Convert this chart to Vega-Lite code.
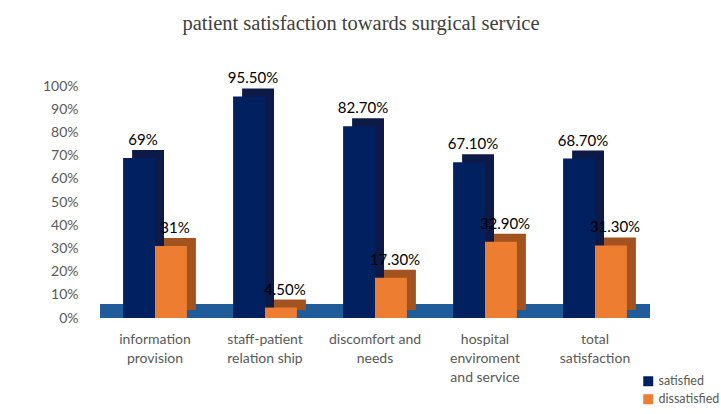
{
  "$schema": "https://vega.github.io/schema/vega-lite/v6.json",
  "description": "Patient satisfaction towards surgical service, satisfied vs dissatisfied by aspect.",
  "width": 550,
  "height": 232,
  "autosize": {"type": "none"},
  "padding": {"left": 100, "top": 86, "right": 71, "bottom": 96},
  "background": "white",
  "title": {
    "text": "patient satisfaction towards surgical service",
    "font": "Liberation Serif",
    "fontSize": 20.5,
    "fontWeight": "normal",
    "color": "#404040",
    "anchor": "middle",
    "dx": -14,
    "offset": 37
  },
  "config": {
    "view": {"stroke": null},
    "axis": {
      "title": null,
      "domain": false,
      "ticks": false,
      "labelFont": "Lato",
      "labelFontSize": 14,
      "labelColor": "#595959",
      "gridColor": "#d9d9d9",
      "gridWidth": 1.5
    }
  },
  "datasets": {
    "survey": [
      {"aspect": "information provision", "group": "satisfied", "value": 0.69, "label": "69%"},
      {"aspect": "information provision", "group": "dissatisfied", "value": 0.31, "label": "31%"},
      {"aspect": "staff-patient relation ship", "group": "satisfied", "value": 0.955, "label": "95.50%"},
      {"aspect": "staff-patient relation ship", "group": "dissatisfied", "value": 0.045, "label": "4.50%"},
      {"aspect": "discomfort and needs", "group": "satisfied", "value": 0.827, "label": "82.70%"},
      {"aspect": "discomfort and needs", "group": "dissatisfied", "value": 0.173, "label": "17.30%"},
      {"aspect": "hospital enviroment and service", "group": "satisfied", "value": 0.671, "label": "67.10%"},
      {"aspect": "hospital enviroment and service", "group": "dissatisfied", "value": 0.329, "label": "32.90%"},
      {"aspect": "total satisfaction", "group": "satisfied", "value": 0.687, "label": "68.70%"},
      {"aspect": "total satisfaction", "group": "dissatisfied", "value": 0.313, "label": "31.30%"}
    ]
  },
  "layer": [
    {
      "data": {"values": [{}]},
      "mark": {"type": "rect", "color": "#1f5c99"},
      "encoding": {
        "y": {
          "datum": 0,
          "type": "quantitative",
          "scale": {"domain": [0, 1]},
          "axis": {"values": [0, 0.1, 0.2, 0.3, 0.4, 0.5, 0.6, 0.7, 0.8, 0.9, 1], "format": ".0%", "labelOverlap": false, "labelPadding": 22}
        },
        "y2": {"datum": 0.06}
      }
    },
    {
      "data": {"name": "survey"},
      "mark": {"type": "bar", "yOffset": -8},
      "encoding": {
        "x": {
          "field": "aspect",
          "type": "nominal",
          "sort": null,
          "scale": {"paddingInner": 0.42, "paddingOuter": 0.21},
          "axis": {
            "labelAngle": 0,
            "labelPadding": 14,
            "labelLineHeight": 19,
            "labelBaseline": "top",
            "labelExpr": "{'information provision': ['information', 'provision'], 'staff-patient relation ship': ['staff-patient', 'relation ship'], 'discomfort and needs': ['discomfort and', 'needs'], 'hospital enviroment and service': ['hospital', 'enviroment', 'and service'], 'total satisfaction': ['total', 'satisfaction']}[datum.label]"
          }
        },
        "xOffset": {
          "field": "group",
          "type": "nominal",
          "sort": ["satisfied", "dissatisfied"],
          "scale": {"range": [9, 72.8], "paddingInner": 0}
        },
        "y": {
          "field": "value",
          "type": "quantitative",
          "axis": {"values": [0, 0.1, 0.2, 0.3, 0.4, 0.5, 0.6, 0.7, 0.8, 0.9, 1], "format": ".0%", "labelOverlap": false, "labelPadding": 22}
        },
        "color": {
          "field": "group",
          "type": "nominal",
          "scale": {"domain": ["satisfied", "dissatisfied"], "range": ["#0d1a47", "#a3531f"]},
          "legend": null
        }
      }
    },
    {
      "data": {"name": "survey"},
      "mark": {"type": "bar"},
      "encoding": {
        "x": {
          "field": "aspect",
          "type": "nominal",
          "sort": null,
          "axis": {
            "labelAngle": 0,
            "labelPadding": 14,
            "labelLineHeight": 19,
            "labelBaseline": "top",
            "labelExpr": "{'information provision': ['information', 'provision'], 'staff-patient relation ship': ['staff-patient', 'relation ship'], 'discomfort and needs': ['discomfort and', 'needs'], 'hospital enviroment and service': ['hospital', 'enviroment', 'and service'], 'total satisfaction': ['total', 'satisfaction']}[datum.label]"
          }
        },
        "xOffset": {
          "field": "group",
          "type": "nominal",
          "sort": ["satisfied", "dissatisfied"],
          "scale": {"paddingInner": 0}
        },
        "y": {
          "field": "value",
          "type": "quantitative",
          "axis": {"values": [0, 0.1, 0.2, 0.3, 0.4, 0.5, 0.6, 0.7, 0.8, 0.9, 1], "format": ".0%", "labelOverlap": false, "labelPadding": 22}
        },
        "color": {
          "field": "group",
          "type": "nominal",
          "sort": ["satisfied", "dissatisfied"],
          "scale": {"domain": ["satisfied", "dissatisfied"], "range": ["#002060", "#ed7d31"]},
          "legend": {
            "title": null,
            "orient": "none",
            "legendX": 542,
            "legendY": 289,
            "symbolType": "square",
            "symbolSize": 100,
            "symbolStrokeWidth": 0,
            "labelFont": "Lato",
            "labelFontSize": 12.5,
            "labelColor": "#595959",
            "labelOffset": 4,
            "rowPadding": 5
          }
        }
      }
    },
    {
      "data": {"name": "survey"},
      "mark": {"type": "text", "dy": -18, "dx": 4, "font": "Lato", "fontSize": 15, "color": "#000000"},
      "encoding": {
        "x": {
          "field": "aspect",
          "type": "nominal",
          "sort": null,
          "axis": {
            "labelAngle": 0,
            "labelPadding": 14,
            "labelLineHeight": 19,
            "labelBaseline": "top",
            "labelExpr": "{'information provision': ['information', 'provision'], 'staff-patient relation ship': ['staff-patient', 'relation ship'], 'discomfort and needs': ['discomfort and', 'needs'], 'hospital enviroment and service': ['hospital', 'enviroment', 'and service'], 'total satisfaction': ['total', 'satisfaction']}[datum.label]"
          }
        },
        "xOffset": {"field": "group", "type": "nominal", "sort": ["satisfied", "dissatisfied"], "scale": {"paddingInner": 0}},
        "y": {
          "field": "value",
          "type": "quantitative",
          "axis": {"values": [0, 0.1, 0.2, 0.3, 0.4, 0.5, 0.6, 0.7, 0.8, 0.9, 1], "format": ".0%", "labelOverlap": false, "labelPadding": 22}
        },
        "text": {"field": "label"}
      }
    }
  ],
  "resolve": {"scale": {"color": "independent", "xOffset": "independent"}}
}
